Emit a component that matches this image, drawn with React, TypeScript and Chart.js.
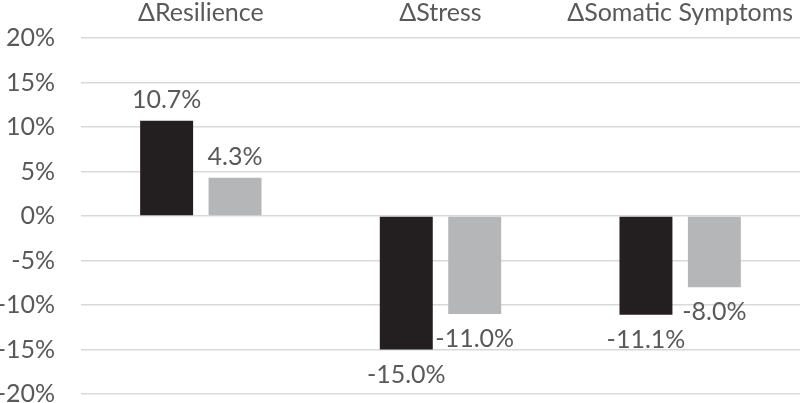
import React, { useEffect, useRef } from "react";
import { Chart, registerables } from "chart.js";

Chart.register(...registerables);

const categories = ["\u0394Resilience", "\u0394Stress", "\u0394Somatic Symptoms"];
const seriesA = [10.7, -15.0, -11.1];
const seriesB = [4.3, -11.0, -8.0];
const seriesNames = ["Group A", "Group B"];
const yTicks = [-20, -15, -10, -5, 0, 5, 10, 15, 20];

const TEXT = "#595959";
const FONT = "Lato";

const labelPlugin = {
  id: "valueLabels",
  afterDatasetsDraw(chart: any) {
    const ctx = chart.ctx;
    ctx.save();
    ctx.font = `25px ${FONT}`;
    ctx.fillStyle = TEXT;
    ctx.textAlign = "center";
    ctx.textBaseline = "middle";
    chart.data.datasets.forEach((ds: any, di: number) => {
      const meta = chart.getDatasetMeta(di);
      meta.data.forEach((bar: any, i: number) => {
        const v = ds.data[i];
        const y = v >= 0 ? bar.y - 21 : bar.y + 25;
        ctx.fillText(v.toFixed(1) + "%", bar.x, y);
      });
    });
    ctx.restore();
  },
};

export default function App() {
  const ref = useRef<HTMLCanvasElement>(null);
  useEffect(() => {
    document.body.style.margin = "0";
    const chart = new Chart(ref.current!, {
      type: "bar",
      data: {
        labels: categories,
        datasets: [
          { label: seriesNames[0], data: seriesA, backgroundColor: "#231f20" },
          { label: seriesNames[1], data: seriesB, backgroundColor: "#b5b6b8" },
        ],
      },
      options: {
        animation: false,
        responsive: false,
        layout: { padding: 0 },
        datasets: { bar: { categoryPercentage: 0.571, barPercentage: 0.774 } },
        plugins: { legend: { display: false }, tooltip: { enabled: false } },
        scales: {
          x: {
            position: "top",
            grid: { display: false },
            border: { display: false },
            ticks: { color: TEXT, font: { family: FONT, size: 25 }, padding: 2, maxRotation: 0, autoSkip: false },
            afterFit: (axis: any) => {
              axis.height = 38;
              axis.paddingLeft = 0;
              axis.paddingRight = 0;
            },
          },
          y: {
            min: -20,
            max: 20,
            afterBuildTicks: (axis: any) => {
              axis.ticks = yTicks.map((v) => ({ value: v }));
            },
            grid: {
              color: "#d9d9d9",
              lineWidth: 1.5,
              drawTicks: true,
              tickLength: 24,
              tickColor: "rgba(0,0,0,0)",
            },
            border: { display: false },
            ticks: {
              color: TEXT,
              font: { family: FONT, size: 25 },
              padding: 2,
              callback: (v: any) => v + "%",
            },
            afterFit: (axis: any) => {
              axis.width = 81;
              axis.paddingTop = 0;
              axis.paddingBottom = 9;
            },
          },
        },
      },
      plugins: [labelPlugin],
    });
    return () => chart.destroy();
  }, []);
  return (
    <div style={{ width: 800, height: 403 }}>
      <canvas ref={ref} width={800} height={403} />
    </div>
  );
}
